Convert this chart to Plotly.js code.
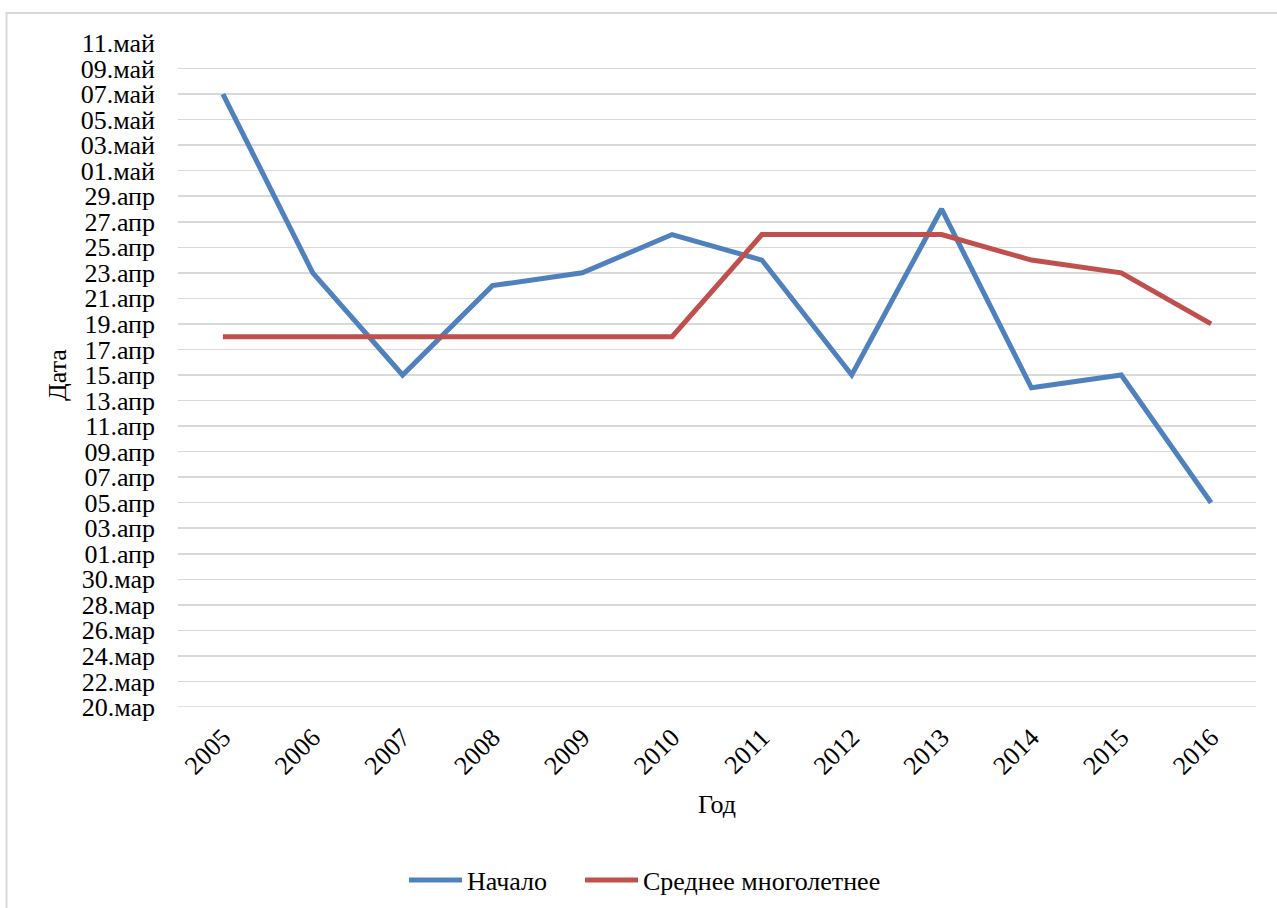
<!DOCTYPE html>
<html>
<head>
<meta charset="utf-8">
<script src="https://cdn.plot.ly/plotly-3.0.1.min.js"></script>
<style>
  html, body { margin: 0; padding: 0; background: #ffffff; }
  #chart { width: 1277px; height: 908px; }
</style>
</head>
<body>
<div id="chart"></div>
<script>
// Years on the x axis
const years = ['2005', '2006', '2007', '2008', '2009', '2010',
               '2011', '2012', '2013', '2014', '2015', '2016'];

// Dates are placed on one common year so that seasons line up
const startDates = ['2000-05-07', '2000-04-23', '2000-04-15', '2000-04-22',
                    '2000-04-23', '2000-04-26', '2000-04-24', '2000-04-15',
                    '2000-04-28', '2000-04-14', '2000-04-15', '2000-04-05'];

const meanDates = ['2000-04-18', '2000-04-18', '2000-04-18', '2000-04-18',
                   '2000-04-18', '2000-04-18', '2000-04-26', '2000-04-26',
                   '2000-04-26', '2000-04-24', '2000-04-23', '2000-04-19'];

// Y axis ticks, every two days
const tickDates = ['2000-03-20', '2000-03-22', '2000-03-24', '2000-03-26', '2000-03-28',
                   '2000-03-30', '2000-04-01', '2000-04-03', '2000-04-05', '2000-04-07',
                   '2000-04-09', '2000-04-11', '2000-04-13', '2000-04-15', '2000-04-17',
                   '2000-04-19', '2000-04-21', '2000-04-23', '2000-04-25', '2000-04-27',
                   '2000-04-29', '2000-05-01', '2000-05-03', '2000-05-05', '2000-05-07',
                   '2000-05-09', '2000-05-11'];
const tickLabels = ['20.мар', '22.мар', '24.мар', '26.мар', '28.мар',
                    '30.мар', '01.апр', '03.апр', '05.апр', '07.апр',
                    '09.апр', '11.апр', '13.апр', '15.апр', '17.апр',
                    '19.апр', '21.апр', '23.апр', '25.апр', '27.апр',
                    '29.апр', '01.май', '03.май', '05.май', '07.май',
                    '09.май', '11.май'];

const font = '"Liberation Serif", "Times New Roman", serif';
const txt = { family: font, size: 26, color: '#000000' };

const traces = [
  {
    x: years, y: startDates, type: 'scatter', mode: 'lines', name: 'Начало',
    line: { color: '#4F81BD', width: 5 }, legend: 'legend'
  },
  {
    x: years, y: meanDates, type: 'scatter', mode: 'lines', name: 'Среднее многолетнее',
    line: { color: '#C0504D', width: 5 }, legend: 'legend2'
  }
];

// Shared legend look; each series has its own legend box along the bottom
const legendBase = {
  orientation: 'h', xref: 'container', yref: 'container',
  xanchor: 'left', y: 1 - 880 / 908, yanchor: 'middle',
  font: txt, itemwidth: 53, bgcolor: 'rgba(0,0,0,0)'
};

const layout = {
  width: 1277, height: 908,
  margin: { l: 178, r: 21, t: 43, b: 201 },
  paper_bgcolor: '#ffffff', plot_bgcolor: '#ffffff',
  font: txt,
  showlegend: true,
  legend: Object.assign({}, legendBase, { x: 404 / 1277 }),
  legend2: Object.assign({}, legendBase, { x: 580 / 1277 }),
  xaxis: {
    type: 'category', range: [-0.5, 11.5], automargin: false,
    showgrid: false, zeroline: false, showline: false,
    ticks: '', tickangle: -45, ticklabelstandoff: 9,
    tickfont: txt,
    title: { text: 'Год', font: txt, standoff: 15 }
  },
  yaxis: {
    type: 'date', range: ['2000-03-20', '2000-05-11'], automargin: false,
    tickmode: 'array', tickvals: tickDates, ticktext: tickLabels,
    showgrid: true, gridcolor: '#D9D9D9', gridwidth: 1.5,
    zeroline: false, showline: false, ticks: '', ticklabelstandoff: 22,
    tickfont: txt,
    title: { text: 'Дата', font: txt, standoff: 6 }
  },
  shapes: [
    {
      type: 'rect', xref: 'paper', yref: 'paper', layer: 'below',
      x0: (6.5 - 178) / 1078, x1: 1.2,
      y0: -0.5, y1: 1 + (43 - 13) / 664,
      line: { color: '#D9D9D9', width: 2 }, fillcolor: 'rgba(0,0,0,0)'
    },
    {
      // bottom gridline at the start of the date range
      type: 'line', xref: 'paper', yref: 'y', layer: 'below',
      x0: 0, x1: 1, y0: '2000-03-20', y1: '2000-03-20',
      line: { color: '#D9D9D9', width: 1.5 }
    }
  ]
};

Plotly.newPlot('chart', traces, layout, { displayModeBar: false, staticPlot: true });
</script>
</body>
</html>
